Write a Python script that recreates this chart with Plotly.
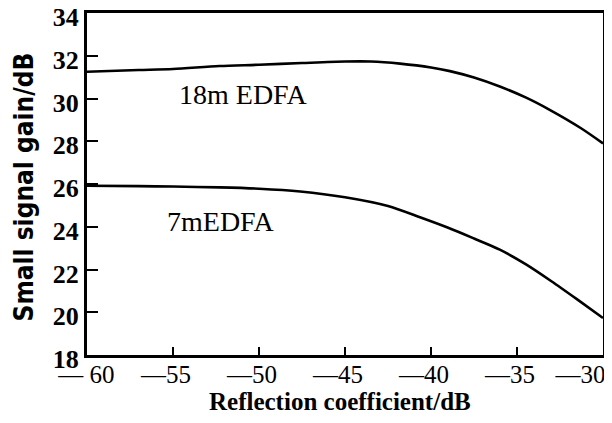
import plotly.graph_objects as go

x_18m = [-60, -57, -55, -52.3, -50, -47.5, -45, -43.5, -41.8, -40, -38.9, -37.5, -36, -34.5, -33.1, -31.3, -30]
y_18m = [31.25, 31.33, 31.38, 31.52, 31.58, 31.66, 31.73, 31.73, 31.63, 31.45, 31.28, 30.98, 30.56, 30.05, 29.47, 28.62, 27.9]

x_7m = [-60, -57, -55, -52.3, -50, -47.6, -45, -42.5, -40.6, -39, -37.5, -36, -34.5, -33, -31.5, -30]
y_7m = [25.92, 25.9, 25.88, 25.84, 25.78, 25.65, 25.38, 24.97, 24.43, 23.95, 23.45, 22.93, 22.25, 21.45, 20.6, 19.73]

NB = "\u00a0"
x_ticks = [-60, -55, -50, -45, -40, -35, -30]
x_tick_labels = [NB * 2 + "— 60", "—55", "—50", "—45", "—40", "—35", "—30" + NB * 5]
y_ticks = [18, 20, 22, 24, 26, 28, 30, 32, 34]

labels = ["18m EDFA", "7mEDFA"]
label_x = [-50.9, -52.2]
label_y = [30.2, 24.25]

x_title = "Reflection coefficient/dB"
y_title = "Small signal gain/dB"

serif = "Liberation Serif"
sans = "DejaVu Sans Condensed, DejaVu Sans"

fig = go.Figure()
for xs, ys in ((x_18m, y_18m), (x_7m, y_7m)):
    fig.add_trace(go.Scatter(x=xs, y=ys, mode="lines",
                             line=dict(color="black", width=2.6, shape="spline", smoothing=0.8),
                             showlegend=False, hoverinfo="skip"))

for t, xx, yy in zip(labels, label_x, label_y):
    fig.add_annotation(x=xx, y=yy, text=t, showarrow=False,
                       font=dict(family=serif, size=28, color="black"))

fig.add_annotation(xref="paper", yref="paper", x=0.49, y=-0.137, text="<b>" + x_title + "</b>",
                   showarrow=False, xanchor="center", yanchor="middle",
                   font=dict(family=serif, size=25, color="black"))
fig.add_annotation(xref="paper", yref="paper", x=-0.122, y=0.49, text="<b>" + y_title + "</b>",
                   showarrow=False, xanchor="center", yanchor="middle", textangle=-90,
                   font=dict(family=sans, size=26, color="black"))

# page body has an 8px default margin; shift the figure margins to compensate
fig.update_layout(
    width=612, height=423,
    margin=dict(l=79, r=17, t=5, b=76),
    paper_bgcolor="white", plot_bgcolor="white",
    font=dict(family=serif, color="black"),
)
fig.update_xaxes(
    range=[-60, -30], tickvals=x_ticks, ticktext=x_tick_labels,
    ticks="inside", ticklen=8, tickwidth=2, tickcolor="black",
    showline=True, linecolor="black", linewidth=3, mirror=True,
    showgrid=False, zeroline=False, ticklabeloverflow="allow",
    ticklabelstandoff=-5, ticklabelshift=-7, automargin=False,
    tickfont=dict(family=serif, size=25, color="black"),
)
fig.update_yaxes(
    range=[18, 34], tickvals=y_ticks,
    ticks="inside", ticklen=11, tickwidth=2, tickcolor="black",
    showline=True, linecolor="black", linewidth=3, mirror=True,
    showgrid=False, zeroline=False, ticklabelstandoff=0, ticklabelshift=4,
    ticklabeloverflow="allow", automargin=False,
    tickfont=dict(family=serif, size=26, color="black", weight="bold"),
)

fig.write_html("out.html")
